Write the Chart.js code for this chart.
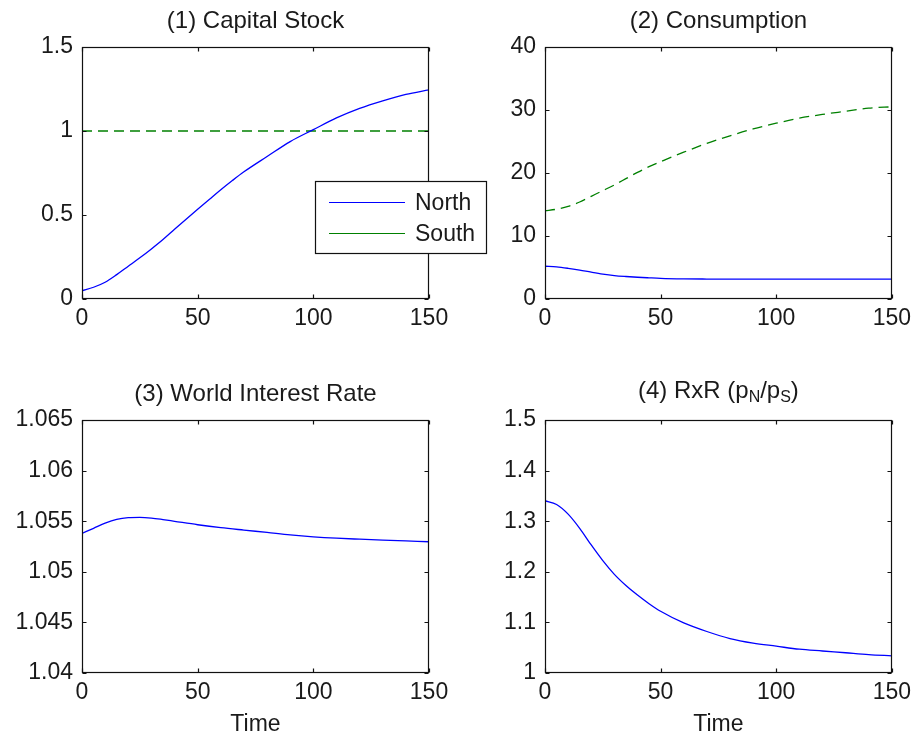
<!DOCTYPE html>
<html><head><meta charset="utf-8">
<script src="https://cdn.jsdelivr.net/npm/chart.js@4.4.1/dist/chart.umd.min.js"></script>
<style>
html,body{margin:0;padding:0;background:#fff;}
#wrap{position:relative;width:917px;height:738px;overflow:hidden;background:#fff;}
canvas{position:absolute;left:0;top:0;}
</style></head><body>
<div id="wrap">
<canvas id="c4" width="917" height="738"></canvas>
<canvas id="c3" width="917" height="738"></canvas>
<canvas id="c2" width="917" height="738"></canvas>
<canvas id="c1" width="917" height="738"></canvas>
</div>
<script>
// ---------- data ----------
const xTicks = [0, 50, 100, 150];

const capTime  = [0, 5, 10, 15, 20, 25, 30, 35, 40, 45, 50, 55, 60, 65, 70, 80, 90, 100, 110, 120, 130, 140, 150];
const capNorth = [0.049, 0.070, 0.100, 0.145, 0.195, 0.245, 0.298, 0.354, 0.415, 0.475, 0.534, 0.592, 0.650, 0.705, 0.757, 0.848, 0.937, 1.008, 1.078, 1.135, 1.180, 1.218, 1.245];
const capSouthTime = [0, 150];
const capSouth = [1, 1];
const capTicks = [0, 0.5, 1, 1.5];

const consTime  = [0, 5, 10, 15, 20, 25, 30, 35, 40, 45, 50, 60, 70, 80, 90, 100, 110, 120, 130, 140, 150];
const consNorth = [5.2, 5.1, 4.87, 4.58, 4.25, 3.95, 3.72, 3.57, 3.45, 3.36, 3.28, 3.2, 3.17, 3.16, 3.16, 3.16, 3.16, 3.16, 3.16, 3.16, 3.16];
const consSouth = [14.0, 14.25, 14.7, 15.4, 16.3, 17.2, 18.1, 19.1, 20.1, 21.0, 21.8, 23.3, 24.7, 25.9, 27.0, 27.9, 28.7, 29.3, 29.8, 30.3, 30.5];
const consTicks = [0, 10, 20, 30, 40];

const rateTime  = [0, 5, 10, 15, 20, 25, 30, 35, 40, 50, 60, 70, 80, 90, 100, 110, 120, 130, 140, 150];
const rateWorld = [1.0538, 1.0543, 1.05481, 1.05518, 1.05535, 1.05538, 1.05531, 1.05516, 1.05499, 1.05465, 1.05436, 1.05412, 1.05389, 1.05365, 1.05346, 1.05332, 1.05322, 1.05313, 1.05305, 1.05297];
const rateTicks = [1.04, 1.045, 1.05, 1.055, 1.06, 1.065];

const rxrTime  = [0, 5, 10, 15, 20, 25, 30, 35, 40, 45, 50, 60, 70, 80, 90, 100, 110, 120, 130, 140, 150];
const rxrNorth = [1.3405, 1.333, 1.314, 1.286, 1.253, 1.222, 1.195, 1.173, 1.154, 1.137, 1.122, 1.099, 1.082, 1.068, 1.059, 1.053, 1.047, 1.0435, 1.040, 1.0365, 1.034];
const rxrTicks = [1, 1.1, 1.2, 1.3, 1.4, 1.5];

const seriesNames = ['North', 'South'];
// ---------- style ----------
const FONT = "'Liberation Sans', Arial, sans-serif";
const TXT = '#1a1a1a';
const BLUE = '#0000ff';
const GREEN = '#008000';
Chart.defaults.font.family = FONT;
Chart.defaults.font.size = 23;
Chart.defaults.color = TXT;

const pts = (xs, ys) => xs.map((x, i) => ({x: x, y: ys[i]}));
const fmt = v => String(Number(Number(v).toFixed(4)));

const framePlugin = {
  id: 'frame',
  afterDatasetsDraw(chart) {
    const {ctx, chartArea: a, scales} = chart;
    const L = Math.round(a.left) + 0.5, R = Math.round(a.right) - 0.5;
    const T = Math.round(a.top) + 0.5, B = Math.round(a.bottom) - 0.5;
    ctx.save();
    ctx.strokeStyle = '#111';
    ctx.lineWidth = 1.2;
    ctx.strokeRect(L, T, R - L, B - T);
    const tl = 4;
    ctx.beginPath();
    scales.x.ticks.forEach(t => {
      const p = Math.round(scales.x.getPixelForValue(t.value)) + 0.5;
      ctx.moveTo(p, B); ctx.lineTo(p, B - tl);
      ctx.moveTo(p, T); ctx.lineTo(p, T + tl);
    });
    scales.y.ticks.forEach(t => {
      const p = Math.round(scales.y.getPixelForValue(t.value)) + 0.5;
      ctx.moveTo(L, p); ctx.lineTo(L + tl, p);
      ctx.moveTo(R, p); ctx.lineTo(R - tl, p);
    });
    ctx.stroke();
    ctx.restore();
  }
};

function titlePlugin(parts) {
  return {
    id: 'mtitle',
    afterDraw(chart) {
      const {ctx, chartArea: a} = chart;
      ctx.save();
      ctx.fillStyle = TXT;
      ctx.textBaseline = 'alphabetic';
      ctx.textAlign = 'left';
      let total = 0;
      parts.forEach(p => {
        ctx.font = (p.sub ? 16 : 24) + 'px ' + FONT;
        p.w = ctx.measureText(p.t).width;
        total += p.w;
      });
      const hasSub = parts.some(p => p.sub);
      const base = a.top - (hasSub ? 22 : 19);
      let x = (a.left + a.right) / 2 - total / 2;
      parts.forEach(p => {
        ctx.font = (p.sub ? 16 : 24) + 'px ' + FONT;
        ctx.fillText(p.t, x, p.sub ? base + 4 : base);
        x += p.w;
      });
      ctx.restore();
    }
  };
}

const legendPlugin = {
  id: 'mlegend',
  afterDraw(chart) {
    const ctx = chart.ctx;
    const x0 = 315.5, y0 = 181.5, w = 171, h = 72;
    ctx.save();
    ctx.fillStyle = '#fff';
    ctx.fillRect(x0, y0, w, h);
    ctx.strokeStyle = '#111';
    ctx.lineWidth = 1.2;
    ctx.strokeRect(x0, y0, w, h);
    ctx.font = '23px ' + FONT;
    ctx.textBaseline = 'alphabetic';
    ctx.fillStyle = TXT;
    ctx.lineWidth = 1.2;
    const rows = [202, 233];
    chart.data.datasets.forEach((ds, i) => {
      const ly = rows[i] + 0.5;
      ctx.strokeStyle = ds.borderColor;
      ctx.setLineDash([]);
      ctx.beginPath(); ctx.moveTo(329, ly); ctx.lineTo(405, ly); ctx.stroke();
      ctx.fillText(ds.label, 415, rows[i] + 8);
    });
    ctx.restore();
  }
};

function makeChart(id, cfg) {
  const xAxis = {
    type: 'linear', min: 0, max: 150,
    afterBuildTicks: s => { s.ticks = xTicks.map(v => ({value: v})); },
    afterFit: s => { s.height = cfg.xh; },
    grid: {display: false, drawTicks: false},
    border: {display: false},
    ticks: {padding: 6, maxRotation: 0, autoSkip: false, color: TXT, font: {size: 23}},
    title: cfg.xtitle ? {display: true, text: cfg.xtitle, padding: 0, color: TXT, font: {size: 23}} : {display: false}
  };
  const yAxis = {
    type: 'linear', min: cfg.yticks[0], max: cfg.yticks[cfg.yticks.length - 1],
    afterBuildTicks: s => { s.ticks = cfg.yticks.map(v => ({value: v})); },
    afterFit: s => { s.width = 70; },
    grid: {display: false, drawTicks: false},
    border: {display: false},
    ticks: {padding: 9, autoSkip: false, color: TXT, font: {size: 23}, callback: v => fmt(v)}
  };
  const plugins = [framePlugin, titlePlugin(cfg.title)];
  if (cfg.legend) plugins.push(legendPlugin);
  return new Chart(document.getElementById(id), {
    type: 'line',
    data: {datasets: cfg.datasets},
    options: {
      responsive: false, animation: false, devicePixelRatio: 1,
      layout: {padding: cfg.pad},
      plugins: {legend: {display: false}, tooltip: {enabled: false}, title: {display: false}},
      elements: {point: {radius: 0}, line: {borderWidth: 1.3, cubicInterpolationMode: 'monotone'}},
      scales: {x: xAxis, y: yAxis}
    },
    plugins: plugins
  });
}

makeChart('c4', {
  title: [{t: '(4) RxR (p'}, {t: 'N', sub: true}, {t: '/p'}, {t: 'S', sub: true}, {t: ')'}],
  yticks: rxrTicks, xh: 65, xtitle: 'Time',
  pad: {left: 475, right: 24, top: 420, bottom: 0},
  datasets: [{label: seriesNames[0], data: pts(rxrTime, rxrNorth), borderColor: BLUE}]
});
makeChart('c3', {
  title: [{t: '(3) World Interest Rate'}],
  yticks: rateTicks, xh: 65, xtitle: 'Time',
  pad: {left: 12, right: 488, top: 420, bottom: 0},
  datasets: [{label: seriesNames[0], data: pts(rateTime, rateWorld), borderColor: BLUE}]
});
makeChart('c2', {
  title: [{t: '(2) Consumption'}],
  yticks: consTicks, xh: 40,
  pad: {left: 475, right: 24, top: 47, bottom: 399},
  datasets: [
    {label: seriesNames[0], data: pts(consTime, consNorth), borderColor: BLUE},
    {label: seriesNames[1], data: pts(consTime, consSouth), borderColor: GREEN, borderDash: [10, 6]}
  ]
});
makeChart('c1', {
  title: [{t: '(1) Capital Stock'}],
  yticks: capTicks, xh: 40, legend: true,
  pad: {left: 12, right: 488, top: 47, bottom: 399},
  datasets: [
    {label: seriesNames[0], data: pts(capTime, capNorth), borderColor: BLUE},
    {label: seriesNames[1], data: pts(capSouthTime, capSouth), borderColor: GREEN, borderDash: [10, 6]}
  ]
});
</script>
</body></html>
